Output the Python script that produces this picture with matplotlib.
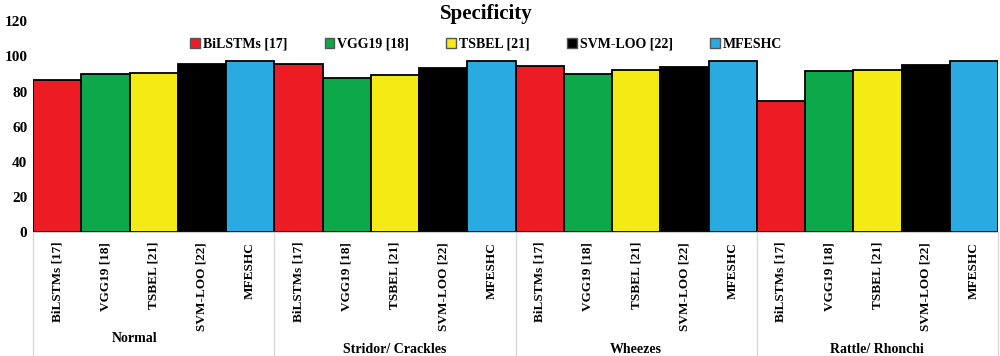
import matplotlib
matplotlib.use("Agg")
import matplotlib.pyplot as plt
from matplotlib.patches import Patch

plt.rcParams['font.family'] = ['Liberation Serif', 'DejaVu Serif']
plt.rcParams['font.weight'] = 'bold'

# Data
groups = ["Normal", "Stridor/ Crackles", "Wheezes", "Rattle/ Rhonchi"]
models = ["BiLSTMs [17]", "VGG19 [18]", "TSBEL [21]", "SVM-LOO [22]", "MFESHC"]
colors = ["#ED1C24", "#0DA84A", "#F5EB14", "#000000", "#29ABE2"]

bilstm = [86.8, 95.5, 94.3, 74.8]
vgg19 = [90.3, 87.9, 90.3, 91.7]
tsbel = [90.7, 89.4, 92.3, 92.4]
svmloo = [95.8, 93.6, 93.8, 95.2]
mfeshc = [97.7, 97.4, 97.4, 97.4]
series = [bilstm, vgg19, tsbel, svmloo, mfeshc]

fig = plt.figure(figsize=(10, 3.56), dpi=100)
ax = fig.add_axes([0.033, 0.348, 0.965, 0.592])

n = len(models)
xpos = []
xlab = []
for g in range(len(groups)):
    for i in range(n):
        x = g * n + i
        ax.bar(x, series[i][g], width=1.0, color=colors[i],
               edgecolor='black', linewidth=1.3)
        xpos.append(x)
        xlab.append(models[i])

ax.set_xlim(-0.5, len(groups) * n - 0.5)
ax.set_ylim(0, 120)
ax.set_yticks(range(0, 121, 20))
ax.tick_params(axis='y', length=0, labelsize=11, pad=4)
ax.set_xticks(xpos)
ax.set_xticklabels(xlab, rotation=90, fontsize=9.5, fontweight='bold')
ax.tick_params(axis='x', length=0, pad=7)
for s in ['top', 'right', 'left']:
    ax.spines[s].set_visible(False)
ax.spines['bottom'].set_color('#d0d0d0')

# group separators and labels
for g in range(len(groups) + 1):
    ax.axvline(g * n - 0.5, ymin=-0.59, ymax=0, color='#d9d9d9',
               linewidth=1, clip_on=False)
label_x = [1.6, 7, 12, 17]
label_y = [-0.505, -0.555, -0.555, -0.555]
for g, name in enumerate(groups):
    ax.text(label_x[g], label_y[g], name, transform=ax.get_xaxis_transform(),
            ha='center', va='center', fontsize=10, fontweight='bold')

fig.text(0.486, 0.962, "Specificity", ha='center', va='center',
         fontsize=15, fontweight='bold')

handles = [Patch(facecolor=c, edgecolor='#555555', label=m)
           for c, m in zip(colors, models)]
fig.legend(handles=handles, loc='center', bbox_to_anchor=(0.486, 0.876),
           ncol=5, frameon=False, fontsize=10, handlelength=0.7,
           handleheight=0.7, handletextpad=0.2, columnspacing=2.7)

fig.savefig("out.png", dpi=100)
